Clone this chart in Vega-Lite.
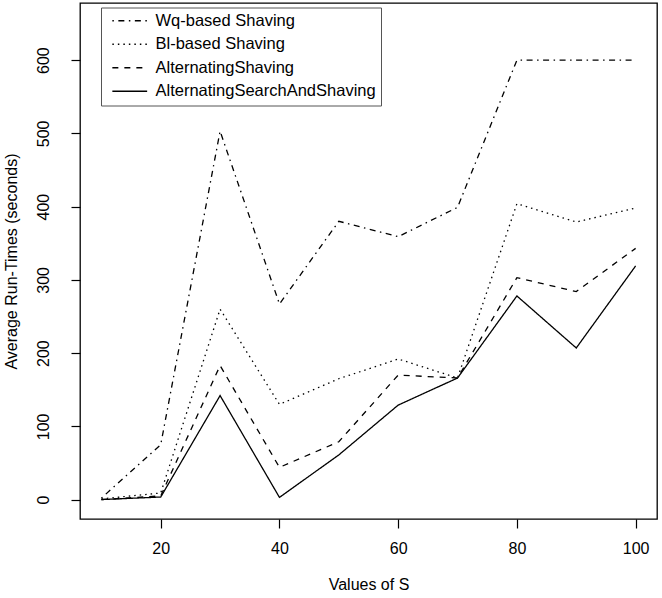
{
  "$schema": "https://vega.github.io/schema/vega-lite/v6.json",
  "width": 577,
  "height": 516,
  "autosize": {"type": "none"},
  "padding": {"left": 80, "top": 3, "right": 5, "bottom": 79},
  "background": "white",
  "config": {
    "font": "Liberation Sans",
    "view": {"stroke": "black", "strokeWidth": 1.3},
    "axis": {
      "domain": false,
      "grid": false,
      "ticks": true,
      "tickSize": 9,
      "tickWidth": 1.2,
      "tickColor": "black",
      "labelColor": "black",
      "labelFontSize": 16,
      "titleFontSize": 16,
      "titleFontWeight": "normal",
      "titleColor": "black"
    }
  },
  "data": {
    "values": [
      {"S": 10, "method": "Wq-based Shaving", "time": 2},
      {"S": 20, "method": "Wq-based Shaving", "time": 75},
      {"S": 30, "method": "Wq-based Shaving", "time": 503},
      {"S": 40, "method": "Wq-based Shaving", "time": 267},
      {"S": 50, "method": "Wq-based Shaving", "time": 380},
      {"S": 60, "method": "Wq-based Shaving", "time": 359},
      {"S": 70, "method": "Wq-based Shaving", "time": 399},
      {"S": 80, "method": "Wq-based Shaving", "time": 600},
      {"S": 90, "method": "Wq-based Shaving", "time": 600},
      {"S": 100, "method": "Wq-based Shaving", "time": 600},
      {"S": 10, "method": "Bl-based Shaving", "time": 1},
      {"S": 20, "method": "Bl-based Shaving", "time": 9},
      {"S": 30, "method": "Bl-based Shaving", "time": 260},
      {"S": 40, "method": "Bl-based Shaving", "time": 130},
      {"S": 50, "method": "Bl-based Shaving", "time": 165},
      {"S": 60, "method": "Bl-based Shaving", "time": 192},
      {"S": 70, "method": "Bl-based Shaving", "time": 166},
      {"S": 80, "method": "Bl-based Shaving", "time": 404},
      {"S": 90, "method": "Bl-based Shaving", "time": 379},
      {"S": 100, "method": "Bl-based Shaving", "time": 398},
      {"S": 10, "method": "AlternatingShaving", "time": 0},
      {"S": 20, "method": "AlternatingShaving", "time": 5},
      {"S": 30, "method": "AlternatingShaving", "time": 183},
      {"S": 40, "method": "AlternatingShaving", "time": 44},
      {"S": 50, "method": "AlternatingShaving", "time": 79},
      {"S": 60, "method": "AlternatingShaving", "time": 170},
      {"S": 70, "method": "AlternatingShaving", "time": 166},
      {"S": 80, "method": "AlternatingShaving", "time": 303},
      {"S": 90, "method": "AlternatingShaving", "time": 284},
      {"S": 100, "method": "AlternatingShaving", "time": 343},
      {"S": 10, "method": "AlternatingSearchAndShaving", "time": 0},
      {"S": 20, "method": "AlternatingSearchAndShaving", "time": 3.5},
      {"S": 30, "method": "AlternatingSearchAndShaving", "time": 142},
      {"S": 40, "method": "AlternatingSearchAndShaving", "time": 3},
      {"S": 50, "method": "AlternatingSearchAndShaving", "time": 61},
      {"S": 60, "method": "AlternatingSearchAndShaving", "time": 129},
      {"S": 70, "method": "AlternatingSearchAndShaving", "time": 166},
      {"S": 80, "method": "AlternatingSearchAndShaving", "time": 278},
      {"S": 90, "method": "AlternatingSearchAndShaving", "time": 207},
      {"S": 100, "method": "AlternatingSearchAndShaving", "time": 319}
    ]
  },
  "mark": {"type": "line", "color": "black", "strokeWidth": 1.3, "clip": true},
  "encoding": {
    "x": {
      "field": "S",
      "type": "quantitative",
      "scale": {"domain": [6.4, 103.6], "nice": false, "zero": false},
      "axis": {
        "values": [20, 40, 60, 80, 100],
        "title": "Values of S",
        "labelPadding": 12,
        "titlePadding": 20
      }
    },
    "y": {
      "field": "time",
      "type": "quantitative",
      "scale": {"domain": [-26.5, 678], "nice": false, "zero": false},
      "axis": {
        "values": [0, 100, 200, 300, 400, 500, 600],
        "title": "Average Run-Times (seconds)",
        "labelAngle": 270,
        "labelAlign": "center",
        "labelBaseline": "bottom",
        "labelPadding": 20,
        "titlePadding": 16
      }
    },
    "strokeDash": {
      "field": "method",
      "type": "nominal",
      "scale": {
        "domain": ["Wq-based Shaving", "Bl-based Shaving", "AlternatingShaving", "AlternatingSearchAndShaving"],
        "range": [[1.5, 4.5, 6, 4.5], [1.5, 4], [6, 6], [1, 0]]
      },
      "legend": {
        "title": null,
        "orient": "none",
        "legendX": 21,
        "legendY": 4.5,
        "strokeColor": "#555",
        "fillColor": "white",
        "padding": 5,
        "symbolType": "M-2.9,0H2.9",
        "symbolSize": 144,
        "symbolOffset": 15.5,
        "symbolStrokeWidth": 1.3,
        "symbolStrokeColor": "black",
        "labelFontSize": 16.5,
        "labelColor": "black",
        "labelOffset": 17.5,
        "rowPadding": 6.5,
        "labelLimit": 400
      }
    }
  }
}
